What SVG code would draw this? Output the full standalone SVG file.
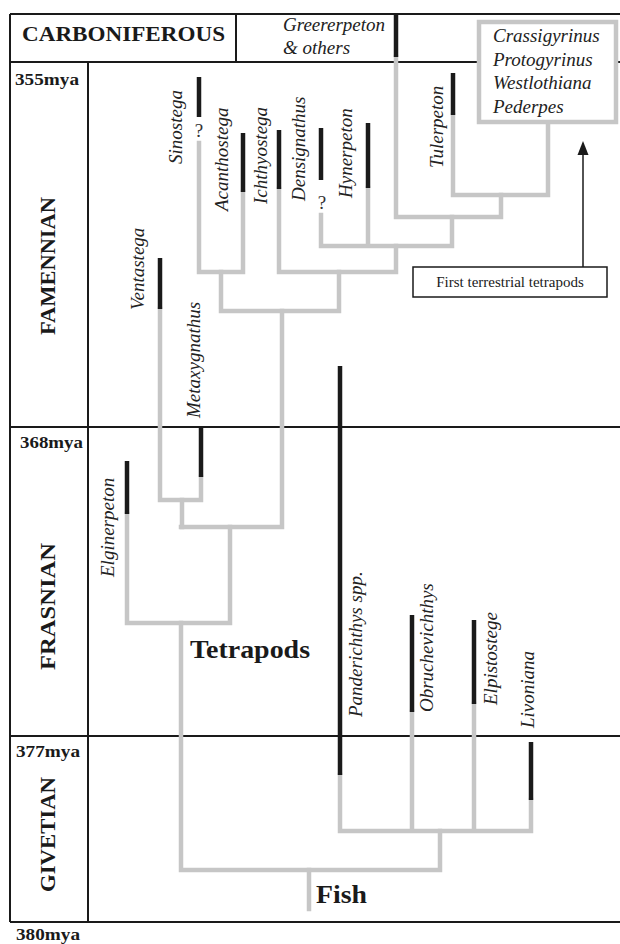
<svg xmlns="http://www.w3.org/2000/svg" width="620" height="944" viewBox="0 0 620 944">
<defs>
<style>
.frame{stroke:#1a1a1a;stroke-width:2;fill:none}
.br{stroke:#c6c6c6;stroke-width:4.5;fill:none;stroke-linecap:square}
.bar{stroke:#1a1a1a;stroke-width:4.5;fill:none}
.lab{font-family:"Liberation Serif",serif;font-style:italic;font-size:19px;fill:#222}
.per{font-family:"Liberation Serif",serif;font-weight:bold;font-size:22px;fill:#1a1a1a}
.mya{font-family:"Liberation Serif",serif;font-weight:bold;font-size:17px;fill:#1a1a1a}
.big{font-family:"Liberation Serif",serif;font-weight:bold;font-size:26px;fill:#1a1a1a}
.q{font-family:"Liberation Serif",serif;font-size:19px;fill:#333;text-anchor:middle}
</style>
</defs>
<rect x="0" y="0" width="620" height="944" fill="#ffffff"/>

<g id="frame">
<path class="frame" d="M10 14 H620 M10 14 V922 M10 62 H620 M236 14 V62 M88 62 V922 M10 427 H620 M10 736 H620"/>
<path class="frame" d="M10 922 H620" stroke-width="3"/>
<text class="per" x="22" y="41" textLength="203" lengthAdjust="spacingAndGlyphs" font-size="23">CARBONIFEROUS</text>
<text class="mya" x="15" y="85" textLength="64" lengthAdjust="spacingAndGlyphs">355mya</text>
<text class="mya" x="20" y="448" textLength="63" lengthAdjust="spacingAndGlyphs">368mya</text>
<text class="mya" x="16" y="757" textLength="64" lengthAdjust="spacingAndGlyphs">377mya</text>
<text class="mya" x="16" y="940" textLength="64" lengthAdjust="spacingAndGlyphs">380mya</text>
<text class="per" transform="translate(55,335) rotate(-90)" textLength="138" lengthAdjust="spacingAndGlyphs">FAMENNIAN</text>
<text class="per" transform="translate(55,670) rotate(-90)" textLength="127" lengthAdjust="spacingAndGlyphs">FRASNIAN</text>
<text class="per" transform="translate(55,892) rotate(-90)" textLength="115" lengthAdjust="spacingAndGlyphs">GIVETIAN</text>
</g>

<g id="connectors">
<path class="br" d="M548 122 V195 H453 M453 115 V195"/>
<path class="br" d="M501 195 V217 H396 M396 57 V217"/>
<path class="br" d="M452 217 V246 H321 M321 215 V246 M368 188 V246"/>
<path class="br" d="M396 246 V272 H279 M279 189 V272"/>
<path class="br" d="M199 143 V272 H243 M243 192 V272"/>
<path class="br" d="M221 272 V311 H339 V272"/>
<path class="br" d="M282 311 V527 H181"/>
<path class="br" d="M160 309 V500 H201 M201 477 V500"/>
<path class="br" d="M182 500 V527"/>
<path class="br" d="M230 527 V623 H127 M127 514 V623"/>
<path class="br" d="M181 623 V870 H440 V831"/>
<path class="br" d="M340 775 V831 H531 V800 M412 712 V831 M474 704 V831"/>
<path class="br" d="M309 870 V909"/>
<path d="M583 267 V152" stroke="#1a1a1a" stroke-width="1.5" fill="none"/>
<polygon points="583,141 577.5,155 588.5,155" fill="#1a1a1a"/>
</g>

<g id="greererpeton">
<path class="bar" d="M396 14 V57"/>
<text class="lab" x="283" y="31">Greererpeton</text>
<text class="lab" x="283" y="54">&amp; others</text>
</g>

<g id="crassigyrinus-group">
<rect x="479" y="22" width="137" height="100" fill="#ffffff" stroke="#c6c6c6" stroke-width="4.5"/>
<text class="lab" x="493" y="42">Crassigyrinus</text>
<text class="lab" x="493" y="65.5">Protogyrinus</text>
<text class="lab" x="493" y="89">Westlothiana</text>
<text class="lab" x="493" y="112.5">Pederpes</text>
</g>

<g id="sinostega">
<path class="bar" d="M199 77 V117"/>
<text class="q" x="199" y="137">?</text>
<text class="lab" transform="translate(182,164) rotate(-90)">Sinostega</text>
</g>
<g id="acanthostega">
<path class="bar" d="M243 133 V192"/>
<text class="lab" transform="translate(228,211) rotate(-90)">Acanthostega</text>
</g>
<g id="ichthyostega">
<path class="bar" d="M279 130 V189"/>
<text class="lab" transform="translate(267,204) rotate(-90)">Ichthyostega</text>
</g>
<g id="densignathus">
<path class="bar" d="M321 128 V180"/>
<text class="q" x="322" y="209">?</text>
<text class="lab" transform="translate(305,201) rotate(-90)">Densignathus</text>
</g>
<g id="hynerpeton">
<path class="bar" d="M368 123 V188"/>
<text class="lab" transform="translate(352,198) rotate(-90)">Hynerpeton</text>
</g>
<g id="tulerpeton">
<path class="bar" d="M453 73 V115"/>
<text class="lab" transform="translate(443,168) rotate(-90)">Tulerpeton</text>
</g>
<g id="ventastega">
<path class="bar" d="M160 258 V309"/>
<text class="lab" transform="translate(144,310) rotate(-90)">Ventastega</text>
</g>
<g id="metaxygnathus">
<path class="bar" d="M201 428 V477"/>
<text class="lab" transform="translate(200,418) rotate(-90)">Metaxygnathus</text>
</g>
<g id="elginerpeton">
<path class="bar" d="M127 461 V514"/>
<text class="lab" transform="translate(114,577) rotate(-90)">Elginerpeton</text>
</g>
<g id="panderichthys">
<path class="bar" d="M340 366 V775"/>
<text class="lab" transform="translate(362,717) rotate(-90)">Panderichthys spp.</text>
</g>
<g id="obruchevichthys">
<path class="bar" d="M412 615 V712"/>
<text class="lab" transform="translate(433,712) rotate(-90)">Obruchevichthys</text>
</g>
<g id="elpistostege">
<path class="bar" d="M474 620 V704"/>
<text class="lab" transform="translate(497,705) rotate(-90)">Elpistostege</text>
</g>
<g id="livoniana">
<path class="bar" d="M531 742 V800"/>
<text class="lab" transform="translate(534,728) rotate(-90)">Livoniana</text>
</g>

<g id="tetrapods-label">
<text class="big" x="190" y="658" textLength="120" lengthAdjust="spacingAndGlyphs">Tetrapods</text>
</g>
<g id="fish-label">
<text class="big" x="316" y="903" textLength="51" lengthAdjust="spacingAndGlyphs">Fish</text>
</g>

<g id="first-terrestrial">
<rect x="413" y="267" width="194" height="30" fill="#ffffff" stroke="#1a1a1a" stroke-width="1.5"/>
<text x="510" y="287" font-family="Liberation Serif, serif" font-size="15" text-anchor="middle" fill="#1a1a1a">First terrestrial tetrapods</text>
</g>
</svg>
